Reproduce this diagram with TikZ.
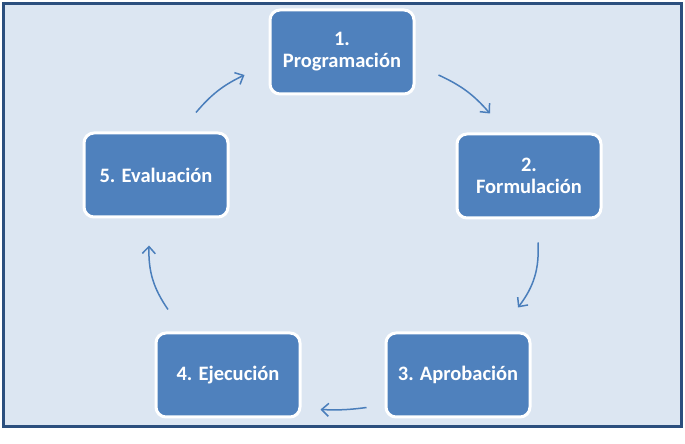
\documentclass[tikz,border=0pt]{standalone}
\usepackage{fontspec}
\setmainfont{Carlito}
\usetikzlibrary{arrows.meta, positioning, calc}
\definecolor{stagefill}{HTML}{4F81BD}
\definecolor{panelfill}{HTML}{DCE6F2}
\definecolor{panelline}{HTML}{2B4F7E}
\definecolor{flowline}{HTML}{4A7EBB}
\tikzset{
  stage/.style={draw=white, line width=3pt, rectangle, rounded corners=10pt, fill=stagefill, align=center,
    minimum width=144pt, minimum height=84pt, inner sep=2pt, text=white, font=\fontsize{20.5}{22}\selectfont\bfseries},
  flow/.style={-{Straight Barb[length=7pt, width=13pt, line width=1.5pt]}, line width=1.5pt, draw=flowline, bend left=12}
}

\begin{document}
\begin{tikzpicture}[x=1pt, y=1pt]

\useasboundingbox (0,0) rectangle (685,444);
\draw[panelline, line width=3pt, fill=panelfill] (3,17) rectangle (681,440);

\node[stage] (prog) at (342,392) {1.\\Programación};
\node[stage] (form) at (529,268) {2.\\Formulación};
\node[stage] (aprob) at (458,69) {3. Aprobación};
\node[stage] (ejec) at (228,69) {4. Ejecución};
\node[stage] (eval) at (156,269) {5. Evaluación};

\draw[flow] ($(prog.east)+(23,-23)$) to ($(form.north)+(-39,19)$);
\draw[flow, bend left=20] ($(form.south)+(9,-23)$) to ($(aprob.north)+(60,24)$);
\draw[flow, bend left=5] ($(aprob.south west)+(-18,11)$) to ($(ejec.south east)+(19,9)$);
\draw[flow, bend left=18] ($(ejec.north)+(-60,22)$) to ($(eval.south)+(-7,-27)$);
\draw[flow] ($(eval.north)+(40,19)$) to ($(prog.west)+(-24,-23)$);

\end{tikzpicture}
\end{document}
